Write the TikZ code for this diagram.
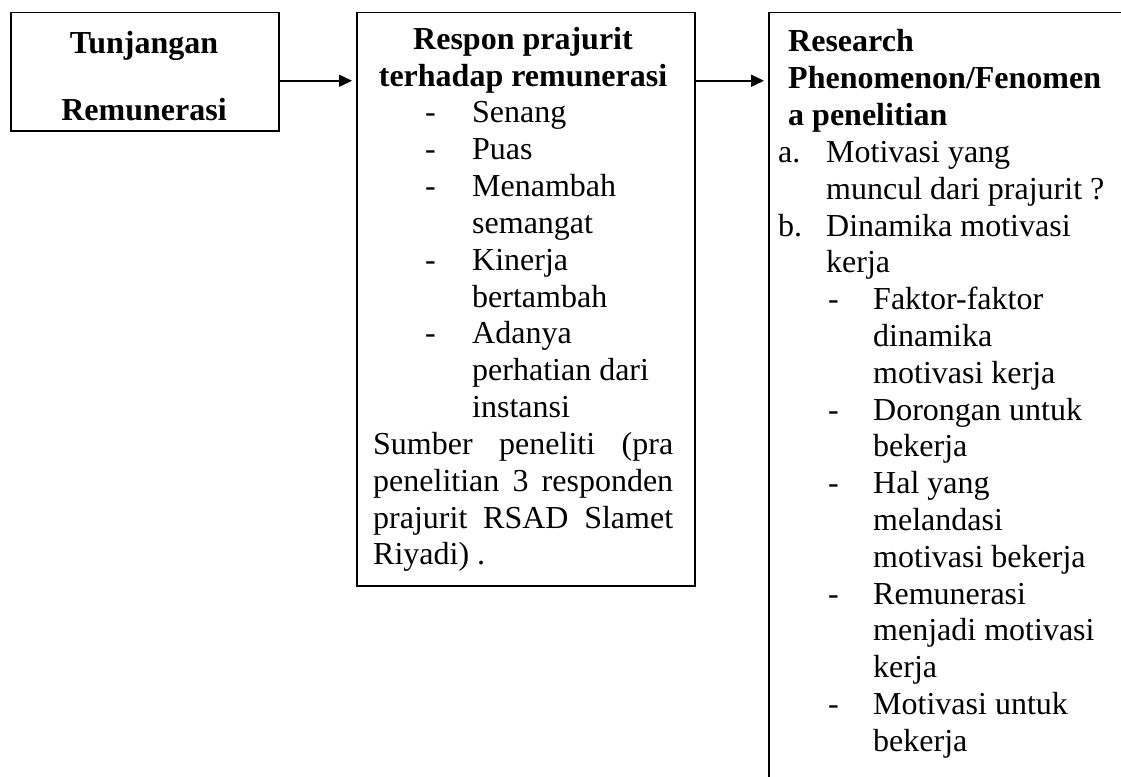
\documentclass[tikz,border=0pt]{standalone}
\usepackage{fontspec}
\setmainfont{Liberation Serif}
\usetikzlibrary{arrows.meta}
\tikzset{
  box/.style={draw, line width=1.5pt, inner sep=0pt, anchor=north west},
  ln/.style={inner sep=0pt, anchor=base west, font=\fontsize{32}{36.8}\selectfont},
  hd/.style={inner sep=0pt, anchor=base, font=\fontsize{32}{36.8}\selectfont\bfseries},
  hdl/.style={inner sep=0pt, anchor=base west, font=\fontsize{32}{36.8}\selectfont\bfseries},
  arr/.style={line width=1.5pt, -{Triangle[length=13pt,width=12pt]}, shorten >=4pt}
}
\begin{document}
\begin{tikzpicture}[x=1pt,y=-1pt]
\useasboundingbox (0,0) rectangle (1121,776);
% boxes
\node[box, minimum width=268pt, minimum height=118pt] (b1) at (10,12) {};
\node[box, minimum width=338pt, minimum height=573pt] (b2) at (356,12) {};
\node[box, minimum width=420pt, minimum height=820pt] (b3) at (768,12) {};
% connectors
\coordinate (a1) at ([yshift=-9pt]b1.east);
\coordinate (a2) at (b2.east |- a1);
\draw[arr] (a1) -- (a1 -| b2.west);
\draw[arr] (a2) -- (a2 -| b3.west);
% box 1
\node[hd] (t1a) at (144,53) {Tunjangan};
\node[hd] (t1b) at (144,120) {Remunerasi};
% box 2
\node[hd] (t2a) at (523,49) {Respon prajurit};
\node[hd] (t2b) at (523,86) {terhadap remunerasi};
\node[ln] (d2a) at (425,122.7) {-};
\node[ln] (t2c) at (472,122.7) {Senang};
\node[ln] (d2b) at (425,159.6) {-};
\node[ln] (t2d) at (472,159.6) {Puas};
\node[ln] (d2c) at (425,196.4) {-};
\node[ln] (t2e) at (472,196.4) {Menambah};
\node[ln] (t2f) at (472,233.3) {semangat};
\node[ln] (d2d) at (425,270.1) {-};
\node[ln] (t2g) at (472,270.1) {Kinerja};
\node[ln] (t2h) at (472,307) {bertambah};
\node[ln] (d2e) at (425,343.8) {-};
\node[ln] (t2i) at (472,343.8) {Adanya};
\node[ln] (t2j) at (472,380.7) {perhatian dari};
\node[ln] (t2k) at (472,417.5) {instansi};
\node[ln] (t2l) at (373,454.4) {\makebox[300pt][s]{Sumber peneliti (pra}};
\node[ln] (t2m) at (373,491.2) {\makebox[300pt][s]{penelitian 3 responden}};
\node[ln] (t2n) at (373,528.1) {\makebox[300pt][s]{prajurit RSAD Slamet}};
\node[ln] (t2o) at (373,564.9) {Riyadi) .};
% box 3
\node[hdl] (t3a) at (788,52) {Research};
\node[hdl] (t3b) at (788,88.8) {Phenomenon/Fenomen};
\node[hdl] (t3c) at (788,125.6) {a penelitian};
\node[ln] (l3a) at (778,162.4) {a.};
\node[ln] (t3d) at (826,162.4) {Motivasi yang};
\node[ln] (t3e) at (826,199.2) {muncul dari prajurit ?};
\node[ln] (l3b) at (778,236) {b.};
\node[ln] (t3f) at (826,236) {Dinamika motivasi};
\node[ln] (t3g) at (826,272.8) {kerja};
\node[ln] (d3a) at (828,309.6) {-};
\node[ln] (t3h) at (873,309.6) {Faktor-faktor};
\node[ln] (t3i) at (873,346.4) {dinamika};
\node[ln] (t3j) at (873,383.2) {motivasi kerja};
\node[ln] (d3b) at (828,420) {-};
\node[ln] (t3k) at (873,420) {Dorongan untuk};
\node[ln] (t3l) at (873,456.8) {bekerja};
\node[ln] (d3c) at (828,493.6) {-};
\node[ln] (t3m) at (873,493.6) {Hal yang};
\node[ln] (t3n) at (873,530.4) {melandasi};
\node[ln] (t3o) at (873,567.2) {motivasi bekerja};
\node[ln] (d3d) at (828,604) {-};
\node[ln] (t3p) at (873,604) {Remunerasi};
\node[ln] (t3q) at (873,640.8) {menjadi motivasi};
\node[ln] (t3r) at (873,677.6) {kerja};
\node[ln] (d3e) at (828,714.4) {-};
\node[ln] (t3s) at (873,714.4) {Motivasi untuk};
\node[ln] (t3t) at (873,751.2) {bekerja};
\end{tikzpicture}
\end{document}
